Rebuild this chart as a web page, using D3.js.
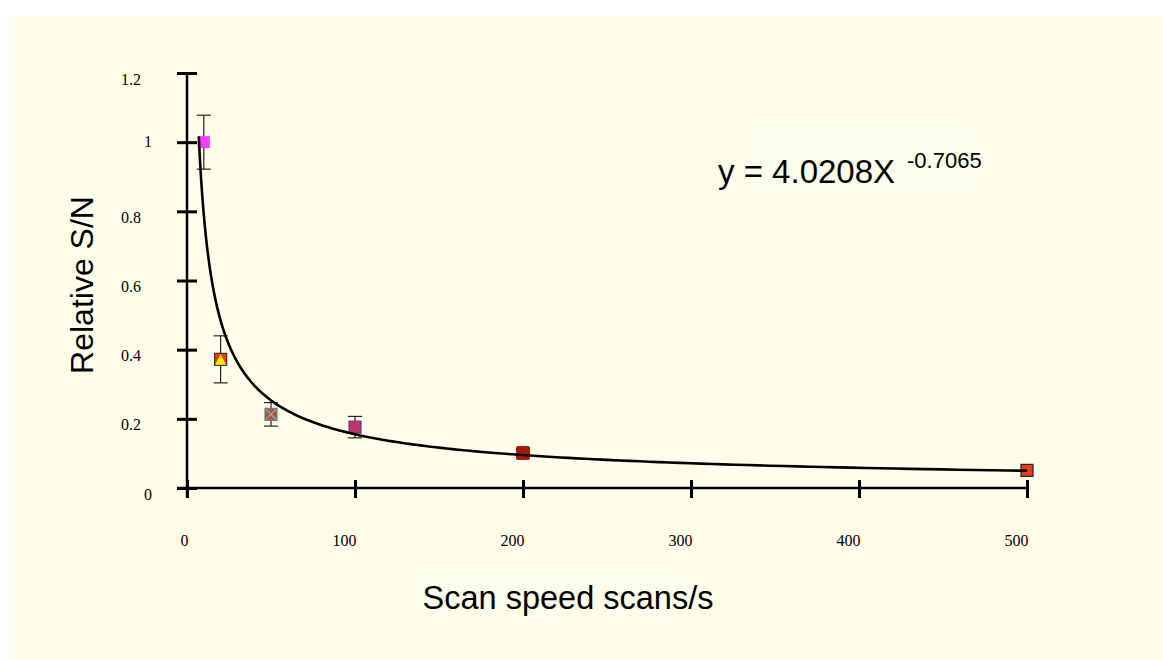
<!DOCTYPE html>
<html>
<head>
<meta charset="utf-8">
<script src="https://cdn.jsdelivr.net/npm/d3@7"></script>
<style>
  body { margin: 0; background: #fff; }
</style>
</head>
<body>
<div id="chart"></div>
<script>
// scan speed (scans/s) vs relative S/N, with error bar half-widths
const speeds = [10, 20, 50, 100, 200, 500];
const relSN = [1.0, 0.372, 0.213, 0.176, 0.101, 0.051];
const errSN = [0.078, 0.068, 0.034, 0.031, 0.010, 0];
const xTicks = [0, 100, 200, 300, 400, 500];
const yTicks = [0, 0.2, 0.4, 0.6, 0.8, 1, 1.2];
// power-law trendline as printed on the chart
const fitA = 4.0208;
const fitB = -0.7065;
const fitFrom = 7;
const fitTo = 500;

// marker look for each point (same order as speeds)
const markers = [
    { fill: "#f440f4", stroke: "none", extra: null, size: 12 },
    { fill: "#f23a12", stroke: "#333", extra: "triangle", mark: "#ffee00", size: 12 },
    { fill: "#f23a12", stroke: "#4c8c8c", extra: "cross", mark: "#3cc4d0", size: 12 },
    { fill: "#e8301c", stroke: "#6a3a9a", extra: "cross", mark: "#8a3cc8", size: 12 },
    { fill: "#a8180a", stroke: "none", extra: null, size: 14 },
    { fill: "#f23a12", stroke: "#222", extra: null, size: 12 }
];

const W = 1163, H = 660;

const svg = d3.select("#chart")
    .append("svg")
    .attr("width", W)
    .attr("height", H);

// cream panel
svg.append("rect")
    .attr("x", 9).attr("y", 16)
    .attr("width", W - 9).attr("height", H - 16)
    .attr("fill", "#fffeea");

// faint text boxes
svg.append("rect")
    .attr("x", 747).attr("y", 118).attr("width", 233).attr("height", 76)
    .attr("fill", "#fcfdea");
svg.append("rect")
    .attr("x", 410).attr("y", 570).attr("width", 280).attr("height", 50)
    .attr("fill", "#fcfdea");

const x = d3.scaleLinear().domain([0, 500]).range([187, 1027]);
const y = d3.scaleLinear().domain([0, 1.2]).range([488, 73]);

// Y axis
const yAxis = svg.append("g")
    .attr("transform", `translate(${x(0)},0)`)
    .call(d3.axisLeft(y).tickValues(yTicks).tickSize(10).tickFormat(d3.format("")));
yAxis.select(".domain").remove();
yAxis.selectAll(".tick line")
    .attr("x1", 10).attr("x2", -10)
    .attr("stroke", "#000").attr("stroke-width", 3);
yAxis.selectAll(".tick text")
    .attr("x", d => Number.isInteger(d) ? -35 : -46)
    .attr("y", d => d === 1 ? -1 : 6)
    .style("font-family", "'Liberation Serif', 'Times New Roman', serif")
    .style("font-size", "16px")
    .attr("fill", "#000");

svg.append("line")
    .attr("x1", x(0)).attr("x2", x(0))
    .attr("y1", y(1.2)).attr("y2", y(0) + 10)
    .attr("stroke", "#000").attr("stroke-width", 2.5);

// X axis
const xAxis = svg.append("g")
    .attr("transform", `translate(0,${y(0)})`)
    .call(d3.axisBottom(x).tickValues(xTicks).tickSize(10));
xAxis.select(".domain").remove();
xAxis.selectAll(".tick line")
    .attr("y1", -8).attr("y2", 10)
    .attr("stroke", "#000").attr("stroke-width", 3);
xAxis.selectAll(".tick text")
    .attr("text-anchor", "end")
    .attr("x", 1)
    .attr("y", 58)
    .attr("dy", 0)
    .style("font-family", "'Liberation Serif', 'Times New Roman', serif")
    .style("font-size", "16px")
    .attr("fill", "#000");

svg.append("line")
    .attr("x1", x(0) - 10).attr("x2", x(500))
    .attr("y1", y(0)).attr("y2", y(0))
    .attr("stroke", "#000").attr("stroke-width", 2.5);

// points
const pts = speeds.map((s, i) => ({ s, v: relSN[i], e: errSN[i], m: markers[i] }));

// error bars
const eb = svg.append("g")
    .attr("stroke", "#222")
    .attr("stroke-width", 1.2);
pts.filter(d => d.e > 0).forEach(d => {
    const cx = x(d.s);
    eb.append("line")
        .attr("x1", cx).attr("x2", cx)
        .attr("y1", y(d.v + d.e)).attr("y2", y(d.v - d.e));
    [d.v + d.e, d.v - d.e].forEach(v => {
        eb.append("line")
            .attr("x1", cx - 7).attr("x2", cx + 7)
            .attr("y1", y(v)).attr("y2", y(v));
    });
});

// markers
const mk = svg.append("g");
pts.forEach(d => {
    const cx = x(d.s), cy = y(d.v), h = d.m.size / 2;
    mk.append("rect")
        .attr("x", cx - h).attr("y", cy - h)
        .attr("width", d.m.size).attr("height", d.m.size)
        .attr("rx", d.m.size > 12 ? 2 : 0)
        .attr("fill", d.m.fill)
        .attr("stroke", d.m.stroke)
        .attr("stroke-width", 1.2);
    if (d.m.extra === "triangle") {
        mk.append("path")
            .attr("d", `M${cx},${cy - h + 1}L${cx + h - 0.5},${cy + h - 0.5}L${cx - h + 0.5},${cy + h - 0.5}Z`)
            .attr("fill", d.m.mark);
    }
    if (d.m.extra === "cross") {
        mk.append("path")
            .attr("d", `M${cx - h + 1},${cy - h + 1}L${cx + h - 1},${cy + h - 1}M${cx + h - 1},${cy - h + 1}L${cx - h + 1},${cy + h - 1}`)
            .attr("stroke", d.m.mark)
            .attr("stroke-width", 1.5);
    }
});

// trendline
const fitXs = d3.range(0, 201).map(i => fitFrom * Math.pow(fitTo / fitFrom, i / 200));
const line = d3.line()
    .x(s => x(s))
    .y(s => y(fitA * Math.pow(s, fitB)));
svg.append("path")
    .datum(fitXs)
    .attr("d", line)
    .attr("fill", "none")
    .attr("stroke", "#000")
    .attr("stroke-width", 2.6);

// equation label
svg.append("text")
    .attr("x", 718).attr("y", 183)
    .style("font-family", "'Liberation Sans', Arial, sans-serif")
    .style("font-size", "33px")
    .text(`y = ${fitA.toFixed(4)}X`);
svg.append("text")
    .attr("x", 907).attr("y", 168)
    .style("font-family", "'Liberation Sans', Arial, sans-serif")
    .style("font-size", "22px")
    .text(fitB.toFixed(4));

// axis titles
svg.append("text")
    .attr("x", 568).attr("y", 609)
    .attr("text-anchor", "middle")
    .style("font-family", "'Liberation Sans', Arial, sans-serif")
    .style("font-size", "32.5px")
    .text("Scan speed scans/s");

svg.append("text")
    .attr("transform", "translate(93,285) rotate(-90)")
    .attr("text-anchor", "middle")
    .style("font-family", "'Liberation Sans', Arial, sans-serif")
    .style("font-size", "32px")
    .text("Relative S/N");
</script>
</body>
</html>
